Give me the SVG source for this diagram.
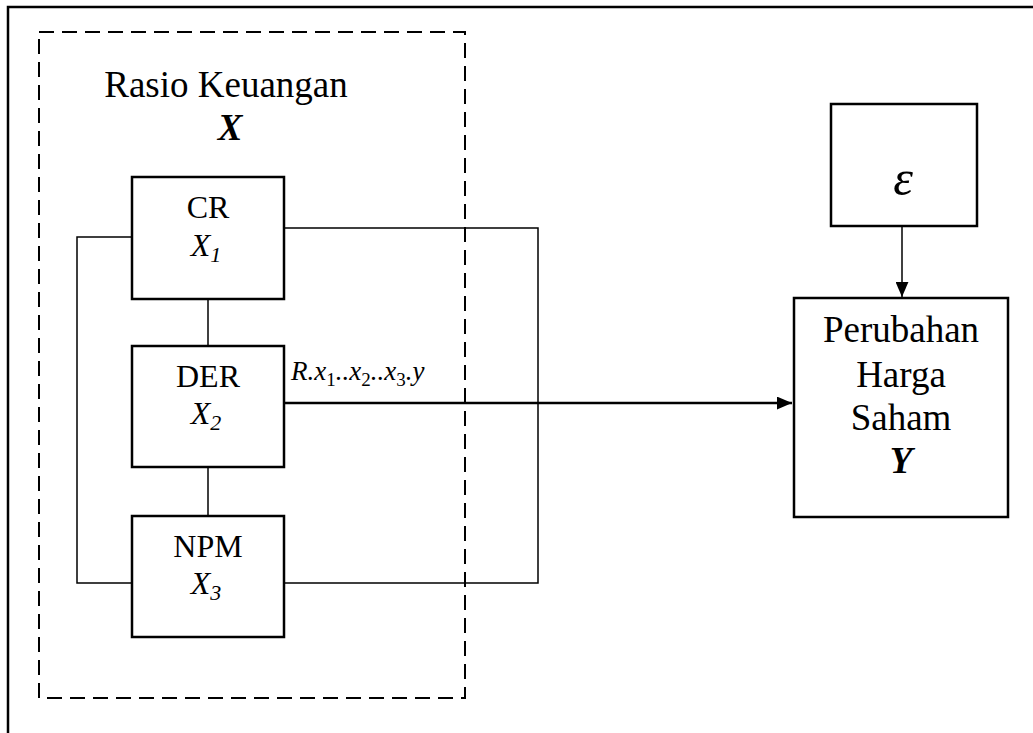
<svg xmlns="http://www.w3.org/2000/svg" width="1033" height="733" viewBox="0 0 1033 733">
<defs>
<style>
.ln{stroke:#000;stroke-width:1.5;fill:none}
.bx{stroke:#000;stroke-width:2.5;fill:#fff}
.t{font-family:"Liberation Serif","Times New Roman",serif;fill:#000;text-anchor:middle}
.i{font-style:italic}
.b{font-weight:bold;font-style:italic}
.sub{font-size:19px;font-style:normal}
</style>
<marker id="ah" viewBox="0 0 14 12" refX="14" refY="6" markerWidth="15" markerHeight="13" markerUnits="userSpaceOnUse" orient="auto">
<path d="M0,0 L14,6 L0,12 Z" fill="#000"/>
</marker>
</defs>
<rect width="1033" height="733" fill="#fff"/>
<g id="frame">
<path d="M8,733 L8,7 L1033,7" stroke="#000" stroke-width="2.5" fill="none"/>
</g>
<g id="group-x">
<rect x="39" y="32" width="426" height="666" fill="none" stroke="#000" stroke-width="2" stroke-dasharray="15,8"/>
<text class="t" x="226" y="97" font-size="37">Rasio Keuangan</text>
<text class="t b" x="230" y="140" font-size="37">X</text>
</g>
<g id="connectors">
<path class="ln" d="M284,228 H538 V583 H284"/>
<path class="ln" d="M132,237 H77 V583 H132"/>
<path class="ln" d="M208,299 V346"/>
<path class="ln" d="M208,467 V516"/>
<path d="M284,403 H792" stroke="#000" stroke-width="2.5" fill="none" marker-end="url(#ah)"/>
<path class="ln" d="M902,226 V297" marker-end="url(#ah)"/>
<text class="t i" x="291" y="380" font-size="27" style="text-anchor:start">R.x<tspan class="sub" dy="6">1</tspan><tspan dy="-6">..x</tspan><tspan class="sub" dy="6">2</tspan><tspan dy="-6">..x</tspan><tspan class="sub" dy="6">3</tspan><tspan dy="-6">.y</tspan></text>
</g>
<g id="cr">
<rect class="bx" x="132" y="177" width="152" height="122"/>
<text class="t" x="208" y="218" font-size="32">CR</text>
<text class="t i" x="206" y="256" font-size="32">X<tspan font-size="22" dy="6">1</tspan></text>
</g>
<g id="der">
<rect class="bx" x="132" y="346" width="152" height="121"/>
<text class="t" x="208" y="387" font-size="32">DER</text>
<text class="t i" x="206" y="424" font-size="32">X<tspan font-size="22" dy="6">2</tspan></text>
</g>
<g id="npm">
<rect class="bx" x="132" y="516" width="152" height="121"/>
<text class="t" x="208" y="557" font-size="32">NPM</text>
<text class="t i" x="206" y="594" font-size="32">X<tspan font-size="22" dy="6">3</tspan></text>
</g>
<g id="epsilon">
<rect class="bx" x="831" y="104" width="146" height="122"/>
<text class="t i" x="903" y="195" font-size="50">ε</text>
</g>
<g id="y">
<rect class="bx" x="794" y="298" width="214" height="219"/>
<text class="t" x="901" y="342" font-size="37">Perubahan</text>
<text class="t" x="901" y="387" font-size="37">Harga</text>
<text class="t" x="901" y="430" font-size="37">Saham</text>
<text class="t b" x="901" y="473" font-size="37">Y</text>
</g>
</svg>
